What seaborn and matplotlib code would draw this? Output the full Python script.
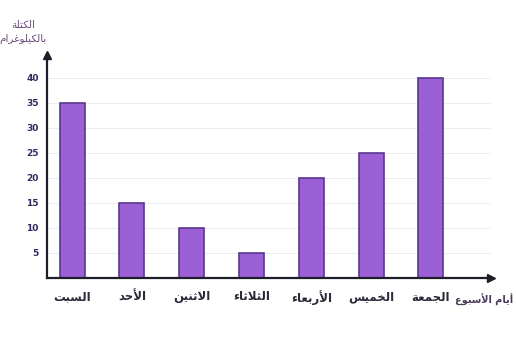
import matplotlib
matplotlib.use("Agg")
import matplotlib.pyplot as plt
import seaborn as sns
import pandas as pd

# chart data
days = ["السبت", "الأحد", "الاثنين", "الثلاثاء", "الأربعاء", "الخميس", "الجمعة"]
mass = [35, 15, 10, 5, 20, 25, 40]
y_ticks = [5, 10, 15, 20, 25, 30, 35, 40]
y_title = "الكتلة\nبالكيلوغرام"
x_title = "أيام الأسبوع"

# matplotlib has no arabic shaping, so pick presentation forms by hand
FORMS = {
    'ء': (0xFE80, 1), 'آ': (0xFE81, 2), 'أ': (0xFE83, 2), 'ؤ': (0xFE85, 2),
    'إ': (0xFE87, 2), 'ئ': (0xFE89, 4), 'ا': (0xFE8D, 2), 'ب': (0xFE8F, 4),
    'ة': (0xFE93, 2), 'ت': (0xFE95, 4), 'ث': (0xFE99, 4), 'ج': (0xFE9D, 4),
    'ح': (0xFEA1, 4), 'خ': (0xFEA5, 4), 'د': (0xFEA9, 2), 'ذ': (0xFEAB, 2),
    'ر': (0xFEAD, 2), 'ز': (0xFEAF, 2), 'س': (0xFEB1, 4), 'ش': (0xFEB5, 4),
    'ص': (0xFEB9, 4), 'ض': (0xFEBD, 4), 'ط': (0xFEC1, 4), 'ظ': (0xFEC5, 4),
    'ع': (0xFEC9, 4), 'غ': (0xFECD, 4), 'ف': (0xFED1, 4), 'ق': (0xFED5, 4),
    'ك': (0xFED9, 4), 'ل': (0xFEDD, 4), 'م': (0xFEE1, 4), 'ن': (0xFEE5, 4),
    'ه': (0xFEE9, 4), 'و': (0xFEED, 2), 'ى': (0xFEEF, 2), 'ي': (0xFEF1, 4),
}
LAM_ALEF = {'آ': 0xFEF5, 'أ': 0xFEF7, 'إ': 0xFEF9, 'ا': 0xFEFB}


def shape_line(text):
    toks = []
    i = 0
    while i < len(text):
        c = text[i]
        if c == 'ل' and i + 1 < len(text) and text[i + 1] in LAM_ALEF:
            toks.append((LAM_ALEF[text[i + 1]], 2))
            i += 2
        elif c in FORMS:
            toks.append(FORMS[c])
            i += 1
        else:
            toks.append((c, 0))
            i += 1
    out = []
    for k, (base, n) in enumerate(toks):
        if n == 0:
            out.append(base)
            continue
        prev = n >= 2 and k > 0 and toks[k - 1][1] == 4
        nxt = n == 4 and k + 1 < len(toks) and toks[k + 1][1] >= 2
        form = 0
        if prev and nxt:
            form = 3
        elif prev:
            form = 1
        elif nxt:
            form = 2
        out.append(chr(base + form))
    return ''.join(out)[::-1]


def shape(text):
    return "\n".join(shape_line(t) for t in text.split("\n"))


df = pd.DataFrame({"day": days, "mass": mass})

sns.set_style("white")
plt.rcParams['font.family'] = ['DejaVu Sans']

fig = plt.figure(figsize=(5.16, 3.39), dpi=100)
ax = fig.add_axes([0.091, 0.18, 0.86, 0.658])

sns.barplot(data=df, x="day", y="mass", order=days, color="#9b60d6",
            width=0.42, edgecolor="#5a3690", linewidth=1.2, saturation=1, ax=ax)

ax.set_ylim(0, 44.6)
ax.set_xlim(-0.42, 7.0)
ax.set_yticks(y_ticks)
ax.set_yticklabels([str(v) for v in y_ticks], fontsize=6.5, color="#2b2b5e",
                   fontweight="bold")
ax.set_xticks(range(len(days)))
ax.set_xticklabels([shape(d) for d in days], fontsize=8.5, color="#2a2a3a",
                   fontweight="bold")
ax.tick_params(axis="y", length=0, pad=6)
ax.tick_params(axis="x", length=0, pad=9)
ax.set_xlabel("")
ax.set_ylabel("")

for v in y_ticks:
    ax.axhline(v, color="#ececf2", lw=0.7, zorder=0)

for side in ["top", "right"]:
    ax.spines[side].set_visible(False)
ax.spines["left"].set_color("#1e1e2a")
ax.spines["bottom"].set_color("#1e1e2a")
ax.spines["left"].set_linewidth(1.6)
ax.spines["bottom"].set_linewidth(1.6)

# axis arrows
ax.plot(0, 1, marker="^", color="#1e1e2a", markersize=6,
        transform=ax.transAxes, clip_on=False)
ax.plot(1, 0, marker=">", color="#1e1e2a", markersize=6,
        transform=ax.transAxes, clip_on=False)

fig.text(0.045, 0.905, shape(y_title), ha="center", va="center",
         fontsize=7.5, color="#6a4a7a", linespacing=1.5)
fig.text(0.995, 0.115, shape(x_title), ha="right", va="center",
         fontsize=7, color="#4a3a5a", fontweight="bold")

fig.savefig("out.png", dpi=100, facecolor="white")
